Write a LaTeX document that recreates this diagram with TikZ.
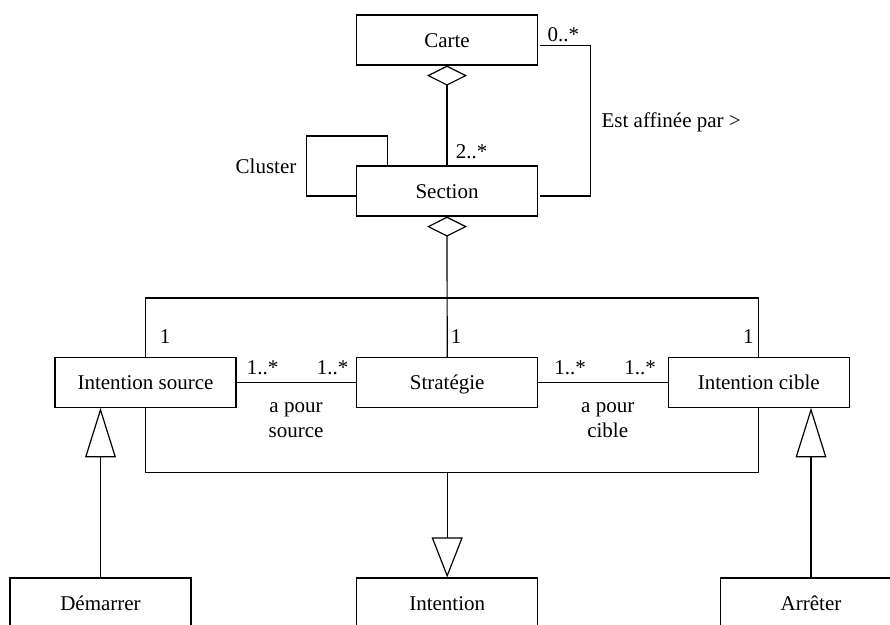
\documentclass[tikz,border=0pt]{standalone}
\usepackage{fontspec}
\setmainfont{Liberation Serif}
\usetikzlibrary{arrows.meta}
\begin{document}
\begin{tikzpicture}[x=1pt,y=-1pt,
  every node/.style={font=\fontsize{21}{25}\selectfont, inner sep=0pt},
  cls/.style={draw, line width=1.2pt, minimum width=181pt, minimum height=50pt, fill=white, text height=14.5pt, text depth=0pt},
  lbl/.style={align=center},
  conn/.style={line width=1.2pt},
  agg/.style={conn, {Diamond[open,length=20pt,width=40pt]}-},
]
\useasboundingbox (0,0) rectangle (890,624);
\clip (0,0) rectangle (890,624);
\fill[white] (0,0) rectangle (890,624);

% classes
\node[cls] (carte) at (447,40) {Carte};
\node[cls] (sec) at (447,191) {Section};
\node[cls, minimum height=49.5pt] (isrc) at (145.5,382.5) {Intention source};
\node[cls, minimum height=49.5pt] (strat) at (447.2,382.5) {Stratégie};
\node[cls, minimum height=49.5pt] (icib) at (758.7,382.5) {Intention cible};
\node[cls] (dem) at (100.5,603) {Démarrer};
\node[cls] (intent) at (447.2,603) {Intention};
\node[cls] (arr) at (811,603) {Arrêter};

\coordinate (top) at (447.2,298);
\coordinate (bot) at (447.2,472.7);

% aggregation Carte - Section
\draw[agg] (carte.south) -- (sec.north);
% Cluster self association
\draw[conn] ([yshift=-5pt]sec.west) -| ++(-49.4,-60) -| ([xshift=31.3pt]sec.north west);
% Est affinée par
\draw[conn] ([yshift=-5.7pt,xshift=1.5pt]carte.east) -- ++(50.6,0) |- ([yshift=-5pt,xshift=1.5pt]sec.east);
% aggregation Section - parts
\draw[agg] (sec.south) -- (strat.north);
\draw[conn] (isrc.north) |- (top) -| (icib.north);
% associations
\draw[conn] (isrc.east) -- (strat.west);
\draw[conn] (strat.east) -- (icib.west);
% generalizations
\draw[conn] (isrc.south) |- (bot) -| (icib.south);
\draw[conn, -{Triangle[open,length=40pt,width=31pt]}] (bot) -- (intent.north);
\draw[conn, -{Triangle[open,length=49.5pt,width=30.7pt]}] (dem.north) -- (dem.north |- isrc.south);
\draw[conn, -{Triangle[open,length=49.5pt,width=30.7pt]}] (arr.north) -- (arr.north |- icib.south);

% labels
\node[lbl] (m0) at (563.3,35) {0..*};
\node[lbl] (m2) at (471.5,152) {2..*};
\node[lbl] (lcl) at (266,166.7) {Cluster};
\node[lbl] (lea) at (671.2,122) {Est affinée par >};
\node[lbl] (o1) at (165,337) {1};
\node[lbl] (o2) at (456,337) {1};
\node[lbl] (o3) at (748.3,337) {1};
\node[lbl] (s1) at (262.5,368) {1..*};
\node[lbl] (s2) at (332.5,368) {1..*};
\node[lbl] (c1) at (570,368) {1..*};
\node[lbl] (c2) at (640,368) {1..*};
\node[lbl] (aps) at (296,420.5) {a pour\\source};
\node[lbl] (apc) at (607.7,420.5) {a pour\\cible};
\end{tikzpicture}
\end{document}
